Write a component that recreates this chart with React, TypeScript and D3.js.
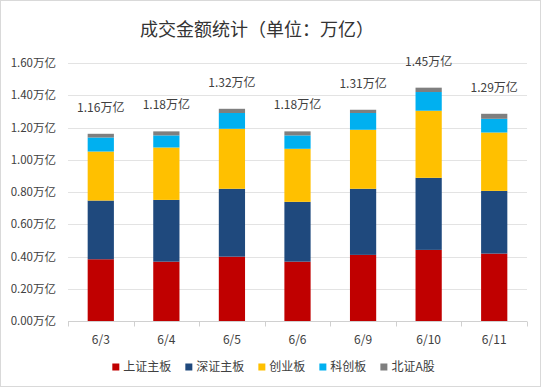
import React, { useEffect, useRef } from 'react';
import * as d3 from 'd3';

// trading days
const dates = ['6/3', '6/4', '6/5', '6/6', '6/9', '6/10', '6/11'];

// turnover per board, 万亿
const shMain = [0.383, 0.368, 0.399, 0.368, 0.410, 0.441, 0.418];
const szMain = [0.364, 0.383, 0.421, 0.371, 0.410, 0.447, 0.389];
const chiNext = [0.304, 0.325, 0.372, 0.329, 0.366, 0.416, 0.362];
const star = [0.087, 0.075, 0.098, 0.083, 0.104, 0.116, 0.085];
const bse = [0.023, 0.025, 0.026, 0.025, 0.020, 0.027, 0.031];

// totals shown above each bar
const totalLabels = ['1.16', '1.18', '1.32', '1.18', '1.31', '1.45', '1.29'];

const seriesNames = ['上证主板', '深证主板', '创业板', '科创板', '北证A股'];
const seriesValues = [shMain, szMain, chiNext, star, bse];
const colors = ['#C00000', '#1F497D', '#FFC000', '#00B0F0', '#7F7F7F'];

const yTicks = [0, 0.2, 0.4, 0.6, 0.8, 1.0, 1.2, 1.4, 1.6];

const W = 542;
const H = 388;
const FONT = '"Noto Sans CJK SC", "Noto Sans", sans-serif';

export default function App() {
  const ref = useRef<SVGSVGElement>(null);

  useEffect(() => {
    const svg = d3.select(ref.current);
    svg.selectAll('*').remove();

    const margin = { top: 63, right: 15, bottom: 67, left: 68 };
    const plotW = W - margin.left - margin.right;

    const x = d3.scaleBand().domain(dates).range([margin.left, margin.left + plotW])
      .paddingInner(0.6).paddingOuter(0.3);
    const y = d3.scaleLinear().domain([0, 1.6]).range([H - margin.bottom, margin.top]);

    // chart border
    svg.append('rect')
      .attr('x', 0.5).attr('y', 0.5)
      .attr('width', 540).attr('height', 386)
      .attr('fill', '#fff').attr('stroke', '#D9D9D9');

    // title
    svg.append('text')
      .attr('x', 257).attr('y', 36)
      .attr('text-anchor', 'middle')
      .style('font-size', '18px')
      .attr('fill', '#333')
      .text('成交金额统计（单位：万亿）');

    // gridlines
    svg.append('g').selectAll('line')
      .data(yTicks.slice(1))
      .join('line')
      .attr('x1', margin.left).attr('x2', margin.left + plotW)
      .attr('y1', d => Math.round(y(d)) + 0.5).attr('y2', d => Math.round(y(d)) + 0.5)
      .attr('stroke', '#E3E3E3');

    // y labels
    svg.append('g').selectAll('text')
      .data(yTicks)
      .join('text')
      .attr('x', 56).attr('y', d => y(d))
      .attr('dy', '0.35em')
      .attr('text-anchor', 'end')
      .style('font-size', '11.5px')
      .attr('fill', '#404040')
      .text(d => d.toFixed(2) + '万亿');

    // stacked bars
    const table = dates.map((d, i) => {
      const row: any = { date: d };
      seriesNames.forEach((s, k) => { row[s] = seriesValues[k][i]; });
      return row;
    });
    const stacked = d3.stack().keys(seriesNames)(table);

    svg.append('g').selectAll('g')
      .data(stacked)
      .join('g')
      .attr('fill', (_, k) => colors[k])
      .selectAll('rect')
      .data(d => d)
      .join('rect')
      .attr('x', d => x((d.data as any).date)!)
      .attr('width', x.bandwidth())
      .attr('y', d => y(d[1]))
      .attr('height', d => y(d[0]) - y(d[1]));

    // x axis line + category boundary ticks
    const y0 = Math.round(y(0)) + 0.5;
    const step = x.step();
    const bounds = dates.map(d => x(d)! + x.bandwidth() / 2 - step / 2);
    bounds.push(x(dates[dates.length - 1])! + x.bandwidth() / 2 + step / 2);
    const ax = svg.append('g');
    ax.append('line')
      .attr('x1', margin.left).attr('x2', margin.left + plotW)
      .attr('y1', y0).attr('y2', y0)
      .attr('stroke', '#D0D0D0');
    ax.selectAll('line.tick')
      .data(bounds)
      .join('line')
      .attr('class', 'tick')
      .attr('x1', d => Math.round(d) + 0.5).attr('x2', d => Math.round(d) + 0.5)
      .attr('y1', y0).attr('y2', y0 + 5)
      .attr('stroke', '#D0D0D0');
    ax.selectAll('text')
      .data(dates)
      .join('text')
      .attr('x', d => x(d)! + x.bandwidth() / 2)
      .attr('y', 344)
      .attr('text-anchor', 'middle')
      .style('font-size', '12px')
      .attr('fill', '#404040')
      .text(d => d);

    // total labels
    svg.append('g').selectAll('text')
      .data(dates)
      .join('text')
      .attr('x', d => x(d)! + x.bandwidth() / 2)
      .attr('y', (d, i) => y(stacked[stacked.length - 1][i][1]) - 22)
      .attr('text-anchor', 'middle')
      .style('font-size', '12px')
      .attr('fill', '#404040')
      .text((d, i) => totalLabels[i] + '万亿');

    // legend
    const le = svg.append('g');
    let cx = 0;
    seriesNames.forEach((s, k) => {
      const g = le.append('g').attr('transform', 'translate(' + cx + ',0)');
      g.append('rect')
        .attr('x', 0).attr('y', -3.5)
        .attr('width', 7).attr('height', 7)
        .attr('fill', colors[k]);
      const t = g.append('text')
        .attr('x', 11).attr('dy', '0.35em')
        .style('font-size', '12px')
        .attr('fill', '#404040')
        .text(s);
      const tw = (t.node() as SVGTextElement).getComputedTextLength();
      cx += 11 + tw + 14;
    });
    const legendW = cx - 14;
    le.attr('transform', 'translate(' + (273.5 - legendW / 2) + ',367)');
  }, []);

  return (
    <svg ref={ref} width={W} height={H}
      style={{ position: 'absolute', left: 0, top: 0, fontFamily: FONT }} />
  );
}
